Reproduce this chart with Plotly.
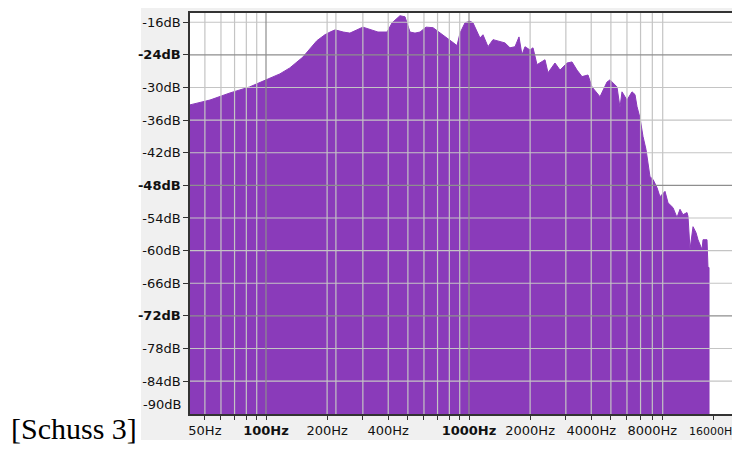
import plotly.graph_objects as go

# Spectrum (frequency in Hz, level in dB)
freq_hz = [42.2, 53, 66.5, 83, 100, 117, 131, 152, 178, 195, 207, 219, 240, 259, 300,
           356, 395, 418, 457, 484, 512, 542, 574, 614, 665, 745, 825, 873, 903, 956,
           1011, 1046, 1095, 1133, 1172, 1241, 1313, 1421, 1504, 1592, 1685, 1763, 1824,
           1887, 1998, 2067, 2163, 2368, 2450, 2652, 2808, 3040, 3217, 3404, 3603, 3857,
           4036, 4419, 4784, 4950, 5359, 5544, 5671, 6002, 6353, 6573, 6724, 6957, 7197,
           7446, 7791, 8061, 8435, 8727, 9237, 9556, 10113, 10583, 10950, 11330, 11856,
           11990, 12268, 12693, 13133, 13433, 14057, 14217, 14876, 15042, 15220]
level_db = [-33.2, -32.3, -31.0, -29.9, -28.6, -27.5, -26.4, -24.4, -21.4, -20.3, -19.8,
            -19.4, -19.8, -20.0, -18.9, -19.8, -19.8, -18.1, -16.8, -17.0, -19.8, -20.0,
            -19.8, -18.9, -19.0, -20.3, -21.6, -22.3, -20.0, -18.1, -17.8, -18.1, -19.8,
            -20.9, -20.3, -22.5, -21.2, -21.6, -21.8, -22.7, -22.5, -20.7, -24.0, -22.5,
            -23.1, -22.7, -25.8, -24.9, -27.3, -25.5, -26.8, -25.5, -25.3, -26.8, -28.0,
            -27.7, -29.9, -31.7, -29.0, -28.6, -29.9, -33.7, -30.8, -32.3, -30.8, -31.3,
            -33.5, -35.6, -39.0, -41.4, -46.4, -46.9, -48.4, -50.1, -49.1, -51.2, -52.1,
            -53.9, -52.4, -53.4, -53.0, -53.7, -59.8, -55.6, -56.7, -58.0, -59.8, -58.0,
            -58.0, -63.1, -63.1]
floor_db = -100

# Axis ticks / grid
x_tick_vals = [50, 60, 70, 80, 90, 100, 200, 300, 400, 500, 600, 700, 800, 900, 1000,
               2000, 3000, 4000, 5000, 6000, 7000, 8000, 9000, 16000, 20000]
x_tick_labels = {50: "50Hz", 100: "<b>100Hz</b>", 200: "200Hz", 400: "400Hz",
                 1000: "<b>1000Hz</b>", 2000: "2000Hz", 4000: "4000Hz", 8000: "8000Hz",
                 16000: "<span style='font-size:11px'>16000Hz</span>"}
x_grid_minor = [50, 60, 70, 80, 90, 200, 221, 300, 400, 500, 600, 700, 800, 900,
                2000, 3000, 4000, 5000, 6000, 7000, 8000, 9000, 20000]
x_grid_major = [100, 1000]

y_tick_vals = [-18, -24, -30, -36, -42, -48, -54, -60, -66, -72, -78, -84]
y_tick_text = ["-16dB", "<b>-24dB</b>", "-30dB", "-36dB", "-42dB", "<b>-48dB</b>",
               "-54dB", "-60dB", "-66dB", "<b>-72dB</b>", "-78dB", "-84dB"]
y_grid_minor = [-18, -30, -36, -42, -54, -60, -66, -78, -84]
y_grid_major = [-24, -48, -72]
y_bottom_label = "-90dB"

X_RANGE = [1.6256, 4.335]
Y_RANGE = [-90.05, -16.3]
X_LO, X_HI = 10 ** X_RANGE[0], 10 ** X_RANGE[1]

PURPLE = "#8A3BBA"

fig = go.Figure()

# filled spectrum
fig.add_trace(go.Scatter(
    x=[freq_hz[0]] + freq_hz + [freq_hz[-1]],
    y=[floor_db] + level_db + [floor_db],
    mode="lines", fill="toself", fillcolor=PURPLE,
    line=dict(color=PURPLE, width=1), hoverinfo="skip", showlegend=False))


def vlines(vals):
    xs, ys = [], []
    for v in vals:
        xs += [v, v, None]
        ys += [floor_db, 0, None]
    return xs, ys


def hlines(vals):
    xs, ys = [], []
    for v in vals:
        xs += [X_LO * 0.5, X_HI * 2, None]
        ys += [v, v, None]
    return xs, ys


for maker, vals, col in [(vlines, x_grid_minor, "#C4C4C4"), (hlines, y_grid_minor, "#C4C4C4"),
                         (vlines, x_grid_major, "#8E8E8E"), (hlines, y_grid_major, "#8E8E8E")]:
    gx, gy = maker(vals)
    fig.add_trace(go.Scatter(x=gx, y=gy, mode="lines", line=dict(color=col, width=1.2),
                             hoverinfo="skip", showlegend=False))

tick_font = dict(family="DejaVu Sans", size=13, color="#111111")

fig.update_xaxes(type="log", range=X_RANGE, showgrid=False, zeroline=False,
                 tickmode="array", tickvals=x_tick_vals,
                 ticktext=[x_tick_labels.get(v, "") for v in x_tick_vals],
                 ticks="outside", ticklen=4, tickwidth=1, tickcolor="#333333",
                 showline=True, linecolor="#333333", linewidth=1.5, mirror=True,
                 tickfont=tick_font, automargin=False)
fig.update_yaxes(range=Y_RANGE, showgrid=False, zeroline=False,
                 tickmode="array", tickvals=y_tick_vals, ticktext=y_tick_text,
                 ticks="outside", ticklen=5, tickwidth=1, tickcolor="#333333",
                 showline=True, linecolor="#333333", linewidth=1.5,
                 tickfont=tick_font, automargin=False)

fig.update_layout(
    width=732, height=442,
    margin=dict(l=182, r=0, t=5, b=36, autoexpand=False),
    paper_bgcolor="white", plot_bgcolor="white",
    shapes=[
        dict(type="rect", xref="paper", yref="paper", x0=-0.0891, x1=1.02, y0=-0.0648, y1=1.0125,
             fillcolor="#F0F0F0", line=dict(width=0), layer="below"),
        dict(type="rect", xref="paper", yref="paper", x0=0, x1=1, y0=0, y1=1,
             fillcolor="white", line=dict(width=0), layer="below"),
    ],
    annotations=[
        dict(text=y_bottom_label, xref="paper", yref="y", x=0, y=-88.3, xanchor="right",
             xshift=-7, showarrow=False, font=tick_font),
        dict(text="[Schuss 3]", xref="paper", yref="paper", x=-0.329, y=-0.037,
             xanchor="left", yanchor="middle", showarrow=False,
             font=dict(family="Liberation Serif", size=30, color="black")),
    ],
)

fig.write_html("out.html")
